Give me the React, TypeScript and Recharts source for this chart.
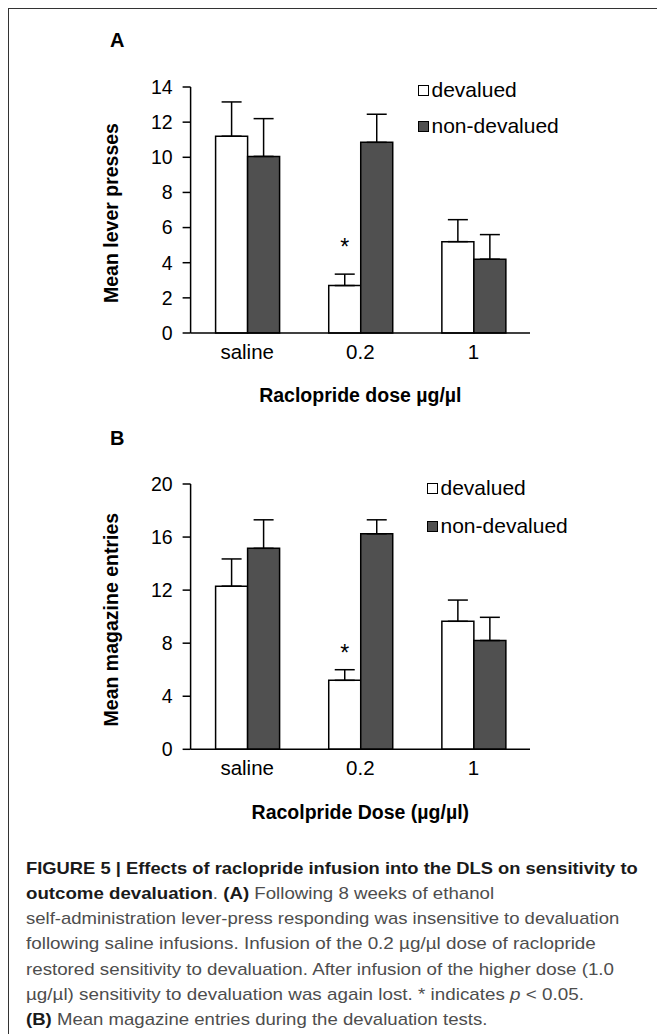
import React, { useLayoutEffect, useRef } from "react";
import { BarChart, Bar, XAxis, YAxis, ErrorBar, LabelList, Label, Legend } from "recharts";

const DOSES = ["saline", "0.2", "1"];
const SIG = ["", "*", ""];

// panel A: lever presses
const LEVER_DEV = [11.2, 2.7, 5.2];
const LEVER_DEV_SEM = [1.95, 0.65, 1.25];
const LEVER_NON = [10.05, 10.85, 4.2];
const LEVER_NON_SEM = [2.15, 1.6, 1.4];
const LEVER_TICKS = [0, 2, 4, 6, 8, 10, 12, 14];

// panel B: magazine entries
const MAG_DEV = [12.3, 5.2, 9.65];
const MAG_DEV_SEM = [2.05, 0.8, 1.6];
const MAG_NON = [15.15, 16.25, 8.2];
const MAG_NON_SEM = [2.15, 1.05, 1.75];
const MAG_TICKS = [0, 4, 8, 12, 16, 20];

const DARK = "#505050";
const CHART_FONT = "'Liberation Sans', Arial, sans-serif";

// width each caption line occupies in the figure (the caption face is condensed)
const CAPTION_WIDTHS = [612, 468, 593, 570, 588, 558, 461];

function buildRows(dev: number[], devSem: number[], non: number[], nonSem: number[]) {
  return DOSES.map((dose, i) => ({
    dose,
    devalued: dev[i],
    devErr: [0, devSem[i]],
    nondev: non[i],
    nondevErr: [0, nonSem[i]],
    sig: SIG[i],
  }));
}

const leverRows = buildRows(LEVER_DEV, LEVER_DEV_SEM, LEVER_NON, LEVER_NON_SEM);
const magRows = buildRows(MAG_DEV, MAG_DEV_SEM, MAG_NON, MAG_NON_SEM);

function LegendBox({ payload, rowH }: any) {
  return (
    <div style={{ fontFamily: CHART_FONT, fontSize: 21, color: "#000" }}>
      {(payload ?? []).map((p: any) => (
        <div key={p.value} style={{ display: "flex", alignItems: "center", height: rowH, whiteSpace: "nowrap" }}>
          <span
            style={{
              display: "inline-block",
              width: 9,
              height: 9,
              border: "1.5px solid #000",
              background: p.color,
              marginRight: 2.5,
            }}
          />
          <span>{p.value}</span>
        </div>
      ))}
    </div>
  );
}

function Panel({
  rows,
  ticks,
  yMax,
  yTitle,
  xTitle,
  height,
  marginTop,
  marginBottom,
  legendLeft,
  legendTop,
  legendRow,
  starOffset,
}: any) {
  const star = (props: any) => {
    const vb = props.viewBox ?? props;
    if (!props.value) return null;
    return (
      <text x={vb.x + vb.width / 2} y={vb.y - starOffset} textAnchor="middle" fontSize={23} fill="#000">
        {props.value}
      </text>
    );
  };
  const yLabel = (props: any) => {
    const vb = props.viewBox;
    const cx = 118;
    const cy = vb.y + vb.height / 2 + 3;
    return (
      <text x={cx} y={cy} transform={`rotate(-90 ${cx} ${cy})`} textAnchor="middle" fontSize={19.5} fontWeight="bold" fill="#000">
        {yTitle}
      </text>
    );
  };
  return (
    <BarChart
      width={657}
      height={height}
      data={rows}
      margin={{ top: marginTop, right: 127, bottom: marginBottom, left: 110.6 }}
      barSize={32}
      barGap={0}
    >
      <XAxis
        dataKey="dose"
        axisLine={{ stroke: "#000", strokeWidth: 1.5 }}
        tickLine={false}
        tickSize={0}
        tickMargin={11}
        height={30}
        tick={{ fill: "#000", fontSize: 20.5 }}
      >
        <Label value={xTitle} position="bottom" offset={25.5} fontSize={19.5} fontWeight="bold" fill="#000" />
      </XAxis>
      <YAxis
        width={80}
        domain={[0, yMax]}
        ticks={ticks}
        interval={0}
        axisLine={{ stroke: "#000", strokeWidth: 1.5 }}
        tickLine={{ stroke: "#000", strokeWidth: 1.5 }}
        tickSize={8}
        tickMargin={10}
        tick={{ fill: "#000", fontSize: 19.5 }}
      >
        <Label content={yLabel} />
      </YAxis>
      <Legend
        layout="vertical"
        align="center"
        verticalAlign="middle"
        content={(p: any) => <LegendBox {...p} rowH={legendRow} />}
        wrapperStyle={{ left: legendLeft, top: legendTop, width: 180 }}
      />
      <Bar dataKey="devalued" name="devalued" fill="#fff" stroke="#000" strokeWidth={1.5} isAnimationActive={false}>
        <ErrorBar dataKey="devErr" direction="y" width={10} stroke="#000" strokeWidth={1.5} isAnimationActive={false} />
        <LabelList dataKey="sig" content={star} />
      </Bar>
      <Bar dataKey="nondev" name="non-devalued" fill={DARK} stroke="#000" strokeWidth={1.5} isAnimationActive={false}>
        <ErrorBar dataKey="nondevErr" direction="y" width={10} stroke="#000" strokeWidth={1.5} isAnimationActive={false} />
      </Bar>
    </BarChart>
  );
}

const B = ({ children }: any) => <b style={{ color: "#1a1a1a" }}>{children}</b>;

function Caption() {
  const refs = useRef<(HTMLDivElement | null)[]>([]);
  useLayoutEffect(() => {
    refs.current.forEach((el, i) => {
      if (!el) return;
      const w = el.offsetWidth;
      if (w > 0) el.style.transform = `scaleX(${CAPTION_WIDTHS[i] / w})`;
    });
  }, []);
  const lines = [
    <B>FIGURE 5 | Effects of raclopride infusion into the DLS on sensitivity to</B>,
    <>
      <B>outcome devaluation</B>. <B>(A)</B> Following 8 weeks of ethanol
    </>,
    <>self-administration lever-press responding was insensitive to devaluation</>,
    <>following saline infusions. Infusion of the 0.2 µg/µl dose of raclopride</>,
    <>restored sensitivity to devaluation. After infusion of the higher dose (1.0</>,
    <>
      µg/µl) sensitivity to devaluation was again lost. * indicates <i>p</i> &lt; 0.05.
    </>,
    <>
      <B>(B)</B> Mean magazine entries during the devaluation tests.
    </>,
  ];
  return (
    <div
      style={{
        position: "absolute",
        left: 26,
        top: 855.6,
        fontFamily: CHART_FONT,
        fontSize: 17,
        lineHeight: "25.3px",
        color: "#4d4d4d",
        whiteSpace: "nowrap",
      }}
    >
      {lines.map((l, i) => (
        <div
          key={i}
          ref={(el) => {
            refs.current[i] = el;
          }}
          style={{ width: "max-content", transformOrigin: "0 50%" }}
        >
          {l}
        </div>
      ))}
    </div>
  );
}

export default function App() {
  return (
    <div style={{ position: "relative", width: 657, height: 1034, overflow: "hidden", background: "#fff", fontFamily: CHART_FONT }}>
      <style>{`body{margin:0;overflow:hidden}`}</style>
      <div style={{ position: "absolute", left: 8, top: 8, width: 720, height: 1100, borderLeft: "1.5px solid #333", borderTop: "1.5px solid #333" }} />
      <div style={{ position: "absolute", left: 110, top: 30, fontSize: 20, lineHeight: "20px", fontWeight: "bold" }}>A</div>
      <div style={{ position: "absolute", left: 110, top: 428, fontSize: 20, lineHeight: "20px", fontWeight: "bold" }}>B</div>

      <div style={{ position: "absolute", left: 0, top: 0 }}>
        <Panel
          rows={leverRows}
          ticks={LEVER_TICKS}
          yMax={14}
          yTitle="Mean lever presses"
          xTitle="Raclopride dose µg/µl"
          height={420}
          marginTop={87}
          marginBottom={57}
          legendLeft={418}
          legendTop={72}
          legendRow={36}
          starOffset={31}
        />
      </div>
      <div style={{ position: "absolute", left: 0, top: 400 }}>
        <Panel
          rows={magRows}
          ticks={MAG_TICKS}
          yMax={20}
          yTitle="Mean magazine entries"
          xTitle="Racolpride Dose (µg/µl)"
          height={440}
          marginTop={84}
          marginBottom={60.7}
          legendLeft={427}
          legendTop={69}
          legendRow={38}
          starOffset={19}
        />
      </div>

      <Caption />
    </div>
  );
}
